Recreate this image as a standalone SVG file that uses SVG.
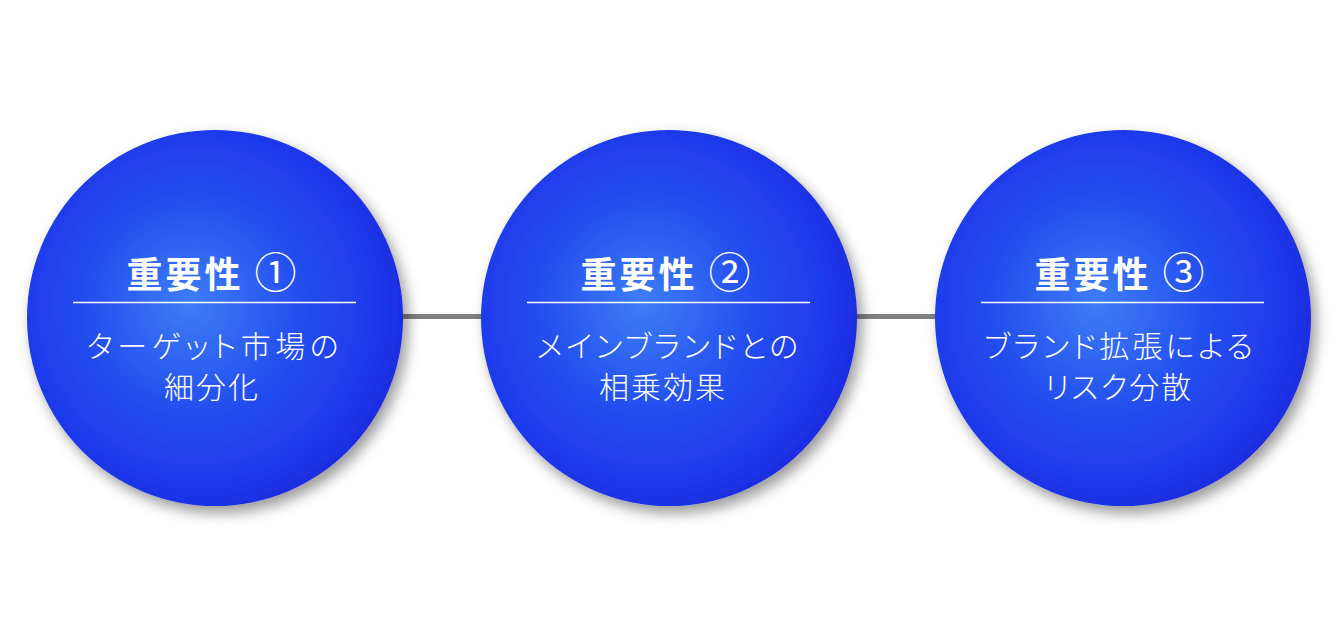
<svg xmlns="http://www.w3.org/2000/svg" width="1342" height="634" viewBox="0 0 1342 634">
  <style>
    .ball { fill: url(#ballGrad); filter: url(#shadow); }
    .title { font-family: "Noto Sans CJK JP", "Noto Sans", sans-serif; font-weight: 700; font-size: 36px; fill: #ffffff; text-anchor: middle; letter-spacing: 3px; }
    .num { font-weight: 400; font-size: 42px; }
    .body { font-family: "Noto Sans CJK JP", "Noto Sans", sans-serif; font-weight: 300; font-size: 30px; fill: #ffffff; text-anchor: middle; letter-spacing: 2px; font-feature-settings: "palt" 1; }
    .wide { letter-spacing: 4.5px; }
    .mid { letter-spacing: 3.2px; }
    .rule { stroke: #ffffff; stroke-width: 1.5; }
    .conn { stroke: #808080; stroke-width: 5; }
  </style>
  <defs>
    <radialGradient id="ballGrad" cx="0.46" cy="0.47" r="0.6" fx="0.43" fy="0.46">
      <stop offset="0" stop-color="#3d7ef5"/>
      <stop offset="0.45" stop-color="#2550f0"/>
      <stop offset="0.8" stop-color="#1e38ea"/>
      <stop offset="1" stop-color="#1a24d8"/>
    </radialGradient>
    <filter id="shadow" x="-20%" y="-20%" width="145%" height="145%">
      <feDropShadow dx="5" dy="7" stdDeviation="7" flood-color="#000000" flood-opacity="0.4"/>
    </filter>
  </defs>
  <rect width="1342" height="634" fill="#ffffff"/>
  <g id="connectors">
    <line class="conn" x1="400" y1="316.5" x2="485" y2="316.5"/>
    <line class="conn" x1="854" y1="316.5" x2="939" y2="316.5"/>
  </g>
  <g id="node1">
    <circle class="ball" cx="215" cy="318" r="188"/>
    <text class="title" x="213" y="288">重要性 <tspan class="num">①</tspan></text>
    <line class="rule" x1="73" y1="302.5" x2="356" y2="302.5"/>
    <text class="body wide" x="215" y="357">ターゲット市場の</text>
    <text class="body" x="212" y="398">細分化</text>
  </g>
  <g id="node2">
    <circle class="ball" cx="669" cy="318" r="188"/>
    <text class="title" x="667" y="288">重要性 <tspan class="num">②</tspan></text>
    <line class="rule" x1="527" y1="302.5" x2="810" y2="302.5"/>
    <text class="body mid" x="669" y="357">メインブランドとの</text>
    <text class="body" x="663" y="398">相乗効果</text>
  </g>
  <g id="node3">
    <circle class="ball" cx="1123" cy="318" r="188"/>
    <text class="title" x="1121" y="288">重要性 <tspan class="num">③</tspan></text>
    <line class="rule" x1="981" y1="302.5" x2="1264" y2="302.5"/>
    <text class="body mid" x="1120" y="357">ブランド拡張による</text>
    <text class="body" x="1119" y="398">リスク分散</text>
  </g>
</svg>
